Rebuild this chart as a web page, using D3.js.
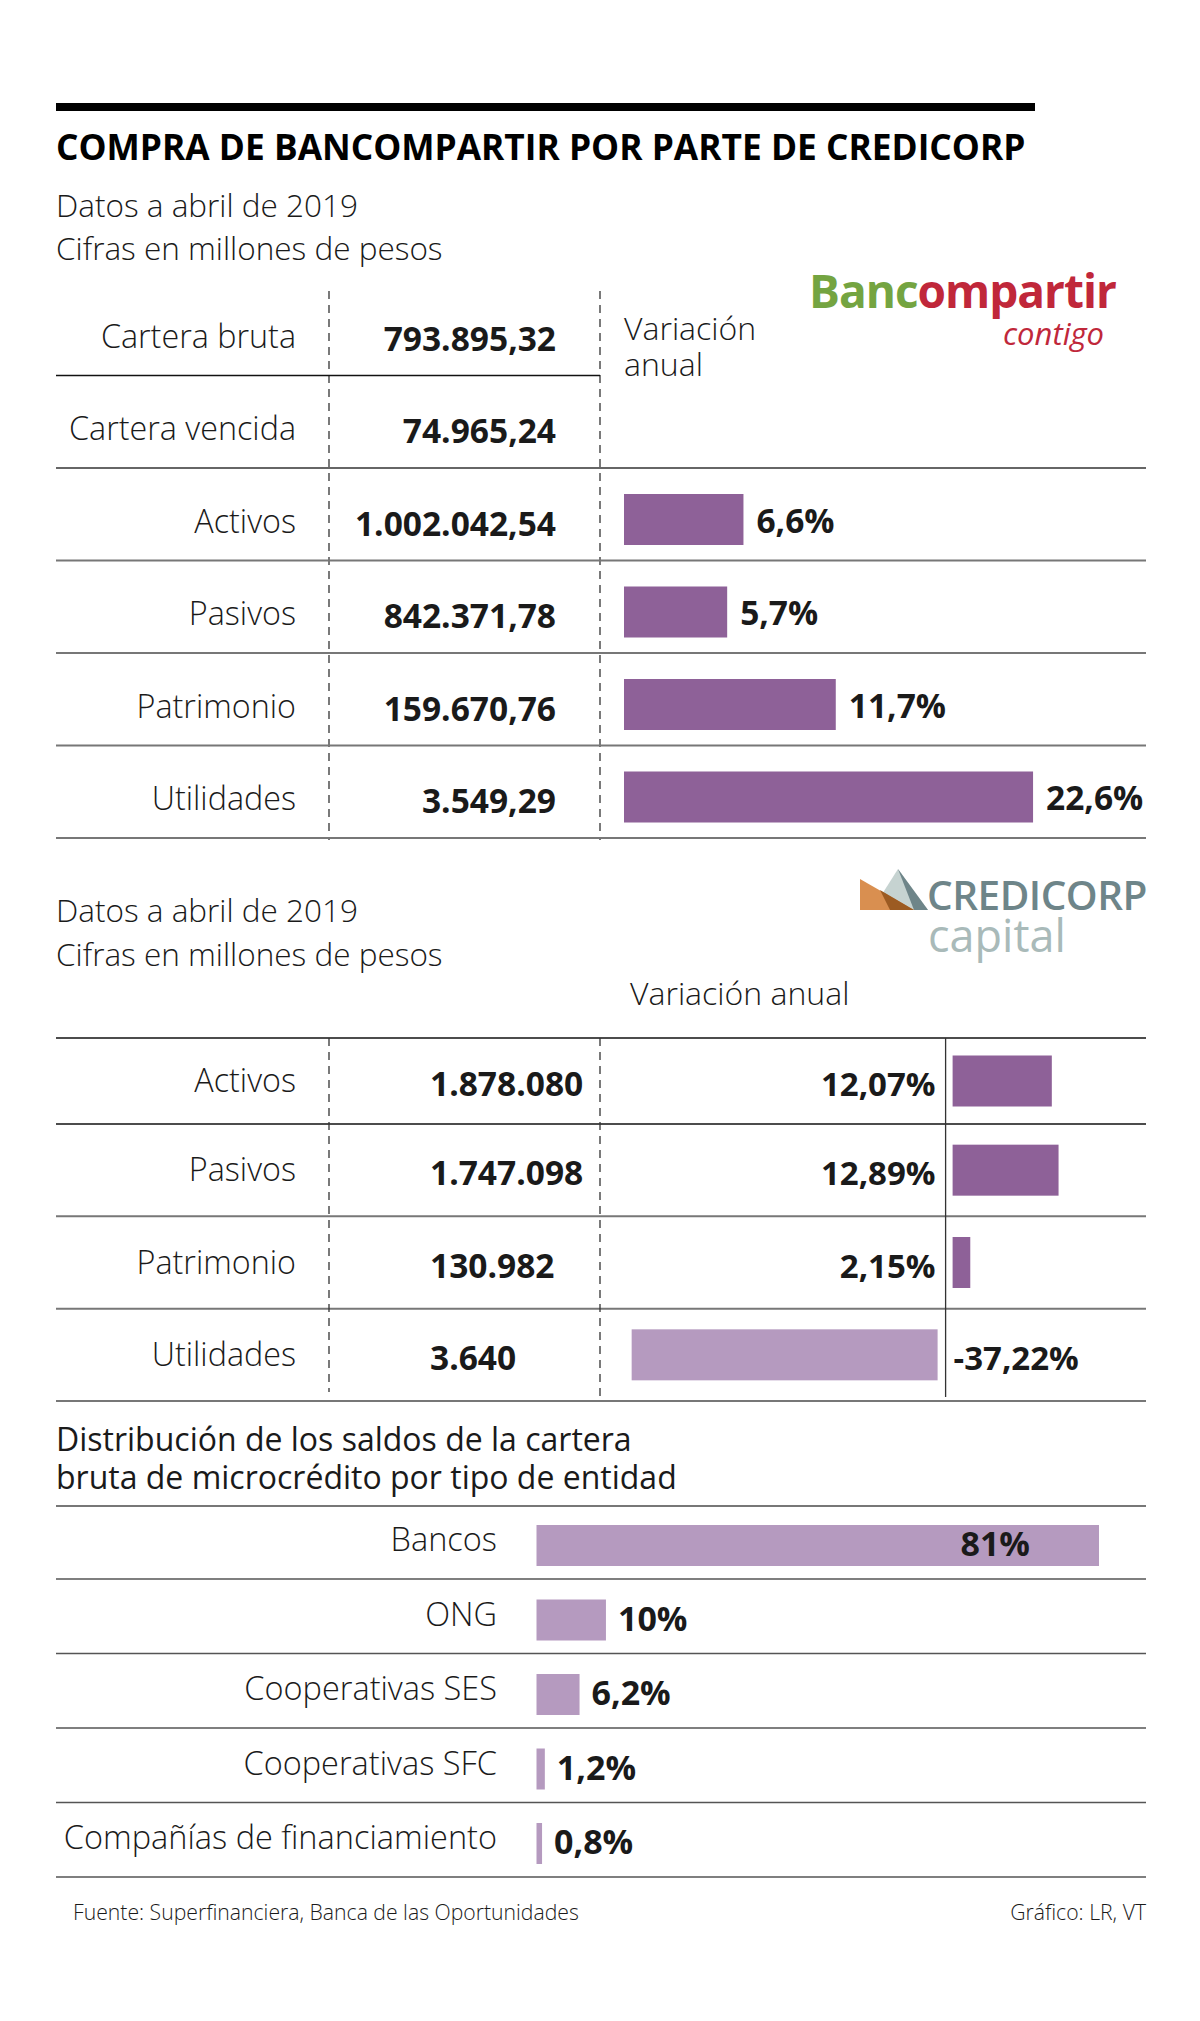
<!DOCTYPE html>
<html>
<head>
<meta charset="utf-8">
<script src="https://cdn.jsdelivr.net/npm/d3@7"></script>
<style>
  body { margin: 0; background: #fff; }
  text { font-family: "Open Sans", "DejaVu Sans", sans-serif; fill: #1a1a1a; }
  .light { font-weight: 300; }
  .bold { font-weight: 700; }
</style>
</head>
<body>
<div id="chart"></div>
<script>
// data
const bcLabels = ["Cartera bruta", "Cartera vencida", "Activos", "Pasivos", "Patrimonio", "Utilidades"];
const bcValues = ["793.895,32", "74.965,24", "1.002.042,54", "842.371,78", "159.670,76", "3.549,29"];
const bcVariation = [null, null, 6.6, 5.7, 11.7, 22.6];

const ccLabels = ["Activos", "Pasivos", "Patrimonio", "Utilidades"];
const ccValues = ["1.878.080", "1.747.098", "130.982", "3.640"];
const ccVariation = [12.07, 12.89, 2.15, -37.22];

const microCats = ["Bancos", "ONG", "Cooperativas SES", "Cooperativas SFC", "Compañías de financiamiento"];
const microShare = [81, 10, 6.2, 1.2, 0.8];

const fmtPct = d => String(d).replace(".", ",") + "%";

// svg canvas
let width = 1200, height = 2021;
let svg = d3.select("#chart").append("svg")
    .attr("width", width)
    .attr("height", height);

svg.append("rect").attr("width", width).attr("height", height).attr("fill", "#fff");

const left = 56, right = 1146;
const darkPurple = "#8e6198", lightPurple = "#b59abf";

// horizontal rule helper
function hline(y, x1, x2, color, w) {
    svg.append("line")
        .attr("x1", x1).attr("x2", x2)
        .attr("y1", y).attr("y2", y)
        .attr("stroke", color)
        .attr("stroke-width", w);
}
function vline(x, y1, y2, dashed) {
    svg.append("line")
        .attr("x1", x).attr("x2", x)
        .attr("y1", y1).attr("y2", y2)
        .attr("stroke", "#333")
        .attr("stroke-width", 1.3)
        .attr("stroke-dasharray", dashed ? "8,6" : null);
}

// header
svg.append("rect").attr("x", left).attr("y", 103).attr("width", 979).attr("height", 8).attr("fill", "#000");
svg.append("text").attr("class", "bold").attr("x", left).attr("y", 160)
    .style("font-size", "35.3px").style("fill", "#000")
    .text("COMPRA DE BANCOMPARTIR POR PARTE DE CREDICORP");
svg.append("text").attr("class", "light").attr("x", left).attr("y", 217)
    .style("font-size", "31.5px").text("Datos a abril de 2019");
svg.append("text").attr("class", "light").attr("x", left).attr("y", 260)
    .style("font-size", "31.5px").text("Cifras en millones de pesos");

// bancompartir logo (as text)
let bLogo = svg.append("text").attr("x", 809).attr("y", 308)
    .style("font-size", "46px").style("font-weight", 700).style("letter-spacing", "-1px");
bLogo.append("tspan").style("fill", "#74a441").text("Banc");
bLogo.append("tspan").style("fill", "#c0273a").text("ompartir");
svg.append("text").attr("x", 1104).attr("y", 345).attr("text-anchor", "end")
    .style("font-size", "31px").style("font-style", "italic").style("fill", "#c0273a").text("contigo");

// ---------- table 1: Bancompartir ----------
let y1 = d3.scaleLinear().domain([0, bcLabels.length - 1]).range([375.5, 838]);  // row bottom lines
let x1 = d3.scaleLinear().domain([0, 10]).range([624, 805]);

vline(329, 291, 840, true);
vline(600, 291, 840, true);

bcLabels.forEach(function(d, i) {
    let yb = y1(i);
    if (i === 0) hline(yb, left, 600, "#111", 1.5);
    else hline(yb, left, right, i === 1 ? "#333" : "#777", i === 1 ? 1.5 : 2);
});

let t1 = svg.append("g");
t1.selectAll(".lab").data(bcLabels).enter().append("text")
    .attr("class", "light")
    .attr("x", 296).attr("y", (d, i) => y1(i) - 28)
    .attr("text-anchor", "end").style("font-size", "32.3px")
    .text(d => d);
t1.selectAll(".val").data(bcValues).enter().append("text")
    .attr("class", "bold")
    .attr("x", 556).attr("y", (d, i) => y1(i) - 25)
    .attr("text-anchor", "end").style("font-size", "33.5px")
    .text(d => d);

svg.append("text").attr("class", "light").attr("x", 624).attr("y", 340).style("font-size", "32px").text("Variación");
svg.append("text").attr("class", "light").attr("x", 624).attr("y", 376).style("font-size", "32px").text("anual");

let bcBars = bcVariation.map((v, i) => ({v: v, i: i})).filter(d => d.v !== null);
t1.selectAll(".bar").data(bcBars).enter().append("rect")
    .attr("x", x1(0))
    .attr("y", d => y1(d.i) - 66.5)
    .attr("width", d => x1(d.v) - x1(0))
    .attr("height", 51)
    .attr("fill", darkPurple);
t1.selectAll(".pct").data(bcBars).enter().append("text")
    .attr("class", "bold")
    .attr("x", d => x1(d.v) + 13)
    .attr("y", d => y1(d.i) - 28)
    .style("font-size", "33.5px")
    .text(d => fmtPct(d.v));

// ---------- section 2: Credicorp ----------
svg.append("text").attr("class", "light").attr("x", left).attr("y", 922)
    .style("font-size", "31.5px").text("Datos a abril de 2019");
svg.append("text").attr("class", "light").attr("x", left).attr("y", 966)
    .style("font-size", "31.5px").text("Cifras en millones de pesos");

// credicorp logo
let cLogo = svg.append("g");
cLogo.append("polygon").attr("points", "872,910 898,869 928,910").attr("fill", "#c6d3d1");
cLogo.append("polygon").attr("points", "898,869 928,910 914,910").attr("fill", "#6e8589");
cLogo.append("polygon").attr("points", "860,879 914,910 860,910").attr("fill", "#d98f50");
cLogo.append("polygon").attr("points", "880,890 914,910 890,910").attr("fill", "#9c5b22");
svg.append("text").attr("x", 927).attr("y", 910)
    .style("font-size", "40.5px").style("font-weight", 600).style("fill", "#6e8589").style("letter-spacing", "-0.5px")
    .text("CREDICORP");
svg.append("text").attr("x", 928).attr("y", 952)
    .style("font-size", "45px").style("fill", "#a9bab9")
    .text("capital");

svg.append("text").attr("class", "light").attr("x", 630).attr("y", 1005)
    .style("font-size", "32px").text("Variación anual");

let y2 = d3.scaleLinear().domain([0, ccLabels.length - 1]).range([1124, 1401]);  // row bottom lines
let rowH2 = y2(1) - y2(0);
let x2 = d3.scaleLinear().domain([0, 10]).range([945.6, 1027.8]);

hline(1038, left, right, "#111", 1.5);
ccLabels.forEach(function(d, i) {
    hline(y2(i), left, right, i === 0 ? "#111" : "#777", i === 0 ? 1.5 : 2);
});
vline(329, 1038, 1392, true);
vline(600, 1038, 1397, true);
vline(x2(0), 1038, 1397, false);

let t2 = svg.append("g");
let mid2 = i => (i === 0 ? (1038 + y2(0)) / 2 : y2(i) - rowH2 / 2);
t2.selectAll(".lab").data(ccLabels).enter().append("text")
    .attr("class", "light")
    .attr("x", 296).attr("y", (d, i) => mid2(i) + 11)
    .attr("text-anchor", "end").style("font-size", "32.3px")
    .text(d => d);
t2.selectAll(".val").data(ccValues).enter().append("text")
    .attr("class", "bold")
    .attr("x", 430).attr("y", (d, i) => mid2(i) + 15)
    .style("font-size", "33.5px")
    .text(d => d);
t2.selectAll(".bar").data(ccVariation).enter().append("rect")
    .attr("x", d => d >= 0 ? x2(0) + 7 : x2(d) - 8)
    .attr("y", (d, i) => mid2(i) - 25.5)
    .attr("width", d => Math.abs(x2(d) - x2(0)))
    .attr("height", 51)
    .attr("fill", d => d >= 0 ? darkPurple : lightPurple);
t2.selectAll(".pct").data(ccVariation).enter().append("text")
    .attr("class", "bold")
    .attr("x", d => d >= 0 ? x2(0) - 10 : x2(0) + 8)
    .attr("y", (d, i) => mid2(i) + 15)
    .attr("text-anchor", d => d >= 0 ? "end" : "start")
    .style("font-size", "33px")
    .text(d => fmtPct(d));

// ---------- section 3: microcredito ----------
svg.append("text").attr("x", left).attr("y", 1451).style("font-size", "32px")
    .text("Distribución de los saldos de la cartera");
svg.append("text").attr("x", left).attr("y", 1489).style("font-size", "32px")
    .text("bruta de microcrédito por tipo de entidad");

let y3 = d3.scaleLinear().domain([0, microCats.length - 1]).range([1579, 1877]);  // row bottom lines
let x3 = d3.scaleLinear().domain([0, 81]).range([536.5, 1099]);

hline(1506, left, right, "#777", 2);
microCats.forEach(function(d, i) {
    hline(y3(i), left, right, "#555", 1.6);
});

let t3 = svg.append("g");
t3.selectAll(".lab").data(microCats).enter().append("text")
    .attr("class", "light")
    .attr("x", 497).attr("y", (d, i) => y3(i) - 28)
    .attr("text-anchor", "end").style("font-size", "32.5px")
    .text(d => d);
t3.selectAll(".bar").data(microShare).enter().append("rect")
    .attr("x", x3(0))
    .attr("y", (d, i) => y3(i) - 54)
    .attr("width", d => x3(d) - x3(0))
    .attr("height", 41)
    .attr("fill", lightPurple);
t3.selectAll(".pct").data(microShare).enter().append("text")
    .attr("class", "bold")
    .attr("x", d => d > 50 ? x3(d) - 69 : x3(d) + 12)
    .attr("y", (d, i) => y3(i) - 23)
    .attr("text-anchor", d => d > 50 ? "end" : "start")
    .style("font-size", "34px")
    .text(d => fmtPct(d));

// footer
svg.append("text").attr("class", "light").attr("x", 73).attr("y", 1920)
    .style("font-size", "21.2px").text("Fuente: Superfinanciera, Banca de las Oportunidades");
svg.append("text").attr("class", "light").attr("x", 1146).attr("y", 1920)
    .attr("text-anchor", "end").style("font-size", "21.2px").text("Gráfico: LR, VT");
</script>
</body>
</html>
